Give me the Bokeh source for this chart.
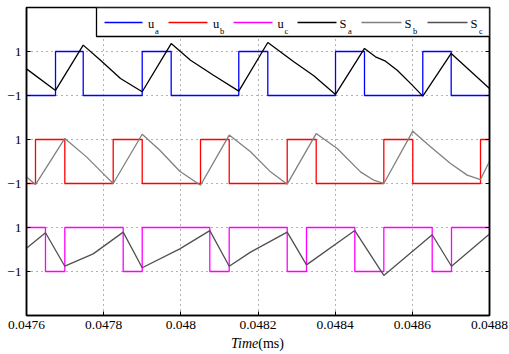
from bokeh.plotting import figure
from bokeh.layouts import column
from bokeh.models import Range1d, FixedTicker, LinearAxis, BoxAnnotation, Label, Div
from bokeh.embed import file_html
from bokeh.resources import INLINE

# ---------------- data ----------------
x_tick_vals = [0.0476, 0.0478, 0.048, 0.0482, 0.0484, 0.0486, 0.0488]
x_tick_labels = ["0.0476", "0.0478", "0.048", "0.0482", "0.0484", "0.0486", "0.0488"]
y_tick_vals = [-1, 1, 3, 5, 7, 9]
y_tick_labels = ["\u22121", "1", "\u22121", "1", "\u22121", "1"]

ua_t = [0.0476, 0.0476752, 0.0477470, 0.0478999, 0.0479750, 0.0481502, 0.0482254,
        0.0484009, 0.0484760, 0.0486271, 0.0487007, 0.0488]
ua_v = [-1, 1, -1, 1, -1, 1, -1, 1, -1, 1, -1, -1]

ub_t = [0.0476, 0.0476233, 0.0476993, 0.0478247, 0.0478999, 0.0480510, 0.0481254,
        0.0482757, 0.0483508, 0.0485261, 0.0486012, 0.0487767, 0.0488]
ub_v = [-1, 1, -1, 1, -1, 1, -1, 1, -1, 1, -1, 1, 1]

uc_t = [0.0476, 0.0476492, 0.0476993, 0.0478506, 0.0478999, 0.0480751, 0.0481254,
        0.0482757, 0.0483257, 0.0484509, 0.0485261, 0.0486515, 0.0487015, 0.0488]
uc_v = [1, -1, 1, -1, 1, -1, 1, -1, 1, -1, 1, -1, 1, 1]

sa_t = [0.0476, 0.0476752, 0.0477470, 0.0477918, 0.0478436, 0.0478999, 0.0479750,
        0.0480251, 0.0480847, 0.0481502, 0.0482254, 0.0482928, 0.0483446, 0.0484009,
        0.0484760, 0.0485045, 0.0485305, 0.0485608, 0.0485953, 0.0486271, 0.0487007, 0.0488]
sa_v = [0.21, -0.77, 1.29, 0.60, -0.23, -0.83, 1.36, 0.60, -0.08, -0.80, 1.41, 0.53,
        -0.10, -0.95, 1.14, 0.76, 0.56, 0.15, -0.45, -1.03, 0.91, -0.68]

sb_t = [0.0476, 0.0476233, 0.0476993, 0.0477555, 0.0477988, 0.0478247, 0.0478999,
        0.0479455, 0.0479973, 0.0480510, 0.0481254, 0.0481806, 0.0482324, 0.0482757,
        0.0483508, 0.0484053, 0.0484657, 0.0485001, 0.0485261, 0.0486012, 0.0486471,
        0.0486989, 0.0487422, 0.0487767, 0.0488]
sb_v = [-0.70, -1.05, 1.05, 0.21, -0.55, -1.00, 1.24, 0.51, -0.44, -1.08, 1.20, 0.44,
        -0.47, -1.03, 1.27, 0.59, -0.47, -0.85, -1.00, 1.38, 0.67, -0.09, -0.62, -0.82, 0.01]

sc_t = [0.0476, 0.0476492, 0.0476993, 0.0477729, 0.0478506, 0.0478999, 0.0479973,
        0.0480751, 0.0481254, 0.0481806, 0.0482757, 0.0483257, 0.0484509, 0.0485261,
        0.0486515, 0.0487015, 0.0488]
sc_v = [0.06, 0.76, -0.76, -0.20, 0.79, -0.83, 0.03, 0.86, -0.76, -0.12, 0.79, -0.70,
        0.86, -1.18, 0.67, -0.76, 0.71]

# vertical offsets of the three stacked traces
off_a, off_b, off_c = 8, 4, 0

FONT = "'Liberation Serif'"
c_ua, c_ub, c_uc = "#0000ff", "#ff0000", "#ff00ff"
c_sa, c_sb, c_sc = "#000000", "#808080", "#505050"

p = figure(width=509, height=336, output_backend="svg", toolbar_location=None,
           x_range=Range1d(0.0476, 0.0488), y_range=Range1d(-3, 11),
           min_border_left=26, min_border_right=20, min_border_top=7, min_border_bottom=21)
p.background_fill_color = "white"
p.border_fill_color = "white"
p.outline_line_color = "black"
p.outline_line_width = 1.5

# axes
for ax in (p.xaxis[0], p.yaxis[0]):
    ax.axis_line_color = "black"
    ax.axis_line_width = 1.5
    ax.major_tick_in = 4
    ax.major_tick_out = 0
    ax.minor_tick_line_color = None
    ax.major_label_text_font = FONT
    ax.major_label_text_font_size = "13.5px"
    ax.major_label_text_color = "black"
    ax.major_label_standoff = 5

p.xaxis[0].ticker = FixedTicker(ticks=x_tick_vals)
p.xaxis[0].major_label_overrides = dict(zip(x_tick_vals, x_tick_labels))
p.yaxis[0].ticker = FixedTicker(ticks=y_tick_vals)
p.yaxis[0].major_label_overrides = dict(zip(y_tick_vals, y_tick_labels))

# right axis: inward tick marks only, no labels
rax = LinearAxis(ticker=FixedTicker(ticks=y_tick_vals), major_tick_in=4, major_tick_out=0,
                 minor_tick_line_color=None, major_label_standoff=0, axis_line_width=1.5,
                 major_label_overrides={v: "" for v in y_tick_vals})
p.add_layout(rax, "right")

p.xgrid.grid_line_color = "#666666"
p.xgrid.grid_line_dash = "1 4"
p.ygrid.grid_line_color = "#666666"
p.ygrid.grid_line_dash = "1 4"

# traces
lw = 1.3
p.step(ua_t, [v + off_a for v in ua_v], mode="after", line_color=c_ua, line_width=lw)
p.line(sa_t, [v + off_a for v in sa_v], line_color=c_sa, line_width=lw)
p.step(ub_t, [v + off_b for v in ub_v], mode="after", line_color=c_ub, line_width=lw)
p.line(sb_t, [v + off_b for v in sb_v], line_color=c_sb, line_width=lw)
p.step(uc_t, [v + off_c for v in uc_v], mode="after", line_color=c_uc, line_width=lw)
p.line(sc_t, [v + off_c for v in sc_v], line_color=c_sc, line_width=lw)

# ---------------- manual legend (screen units relative to the frame) ----------------
FL, FB = 26, 315


def sx(px):
    return px - FL


def sy(py):
    return FB - py


scr = dict(left_units="screen", right_units="screen", top_units="screen", bottom_units="screen")
p.add_layout(BoxAnnotation(left=sx(96), right=sx(489), bottom=sy(36), top=sy(7),
                           fill_color="white", fill_alpha=1.0, line_color="black",
                           line_width=1.3, line_alpha=1.0, **scr))

items = [
    (c_ua, 104, 142, "u", 147.5, "a", 154.5),
    (c_ub, 168, 207, "u", 212.5, "b", 219.5),
    (c_uc, 233, 272, "u", 277.0, "c", 284.0),
    (c_sa, 297, 336, "S", 339.0, "a", 347.5),
    (c_sb, 361, 401, "S", 404.0, "b", 412.5),
    (c_sc, 427, 467, "S", 470.0, "c", 478.5),
]
for col, x0, x1, letter, lx, sub, subx in items:
    p.add_layout(BoxAnnotation(left=sx(x0), right=sx(x1), bottom=sy(22) - 0.7, top=sy(22) + 0.7,
                               fill_color=col, fill_alpha=1.0, line_color=None, **scr))
    p.add_layout(Label(x=sx(lx), y=sy(23.3), x_units="screen", y_units="screen", text=letter,
                       text_font=FONT, text_font_size="12.5px", text_color="black",
                       text_baseline="alphabetic", text_align="left"))
    p.add_layout(Label(x=sx(subx), y=sy(30), x_units="screen", y_units="screen", text=sub,
                       text_font=FONT, text_font_size="8.5px", text_color="black",
                       text_baseline="alphabetic", text_align="left"))

# x axis title: italic "Time" + upright "(ms)"
xlabel = Div(
    text=('<div style="width:509px;box-sizing:border-box;padding-left:6px;text-align:center;'
          "font-family:'Liberation Serif',serif;font-size:14px;line-height:14px;color:black;"
          'white-space:nowrap;"><i>Time</i>(ms)</div>'),
    width=509, height=18, margin=0)

layout = column(p, xlabel, spacing=0)
open("out.html", "w").write(file_html(layout, INLINE))
